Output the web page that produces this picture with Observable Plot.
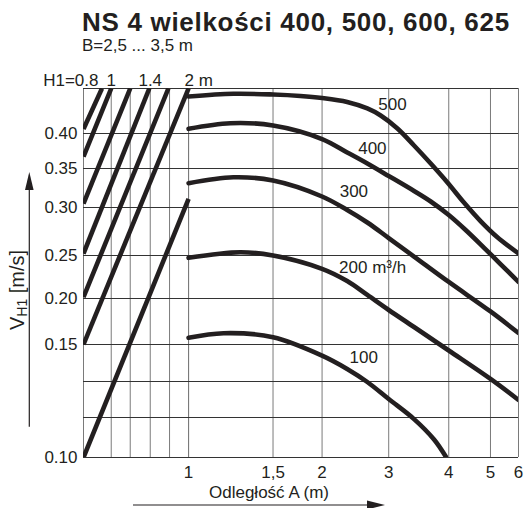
<!DOCTYPE html>
<html><head><meta charset="utf-8">
<script src="https://cdn.jsdelivr.net/npm/d3@7"></script>
<script src="https://cdn.jsdelivr.net/npm/@observablehq/plot@0.6"></script>
<style>
body{margin:0;background:#fff;font-family:"Liberation Sans",Arial,sans-serif;color:#231f20;}
#title{padding:8px 0 0 82px;font-weight:bold;font-size:26px;line-height:28px;letter-spacing:0.7px;white-space:nowrap;}
#subtitle{padding-left:82px;font-size:17px;line-height:20px;}
</style></head><body>
<div id="title">NS 4 wielkości 400, 500, 600, 625</div>
<div id="subtitle">B=2,5 ... 3,5 m</div>
<div id="chart"></div>
<script>
// ---- data: distance A (m) and velocity V_H1 (m/s) per flow rate ----
const curve500 = [[1,0.4411],[1.24,0.4441],[1.5,0.4433],[1.761,0.4417],[2,0.4394],[2.33,0.435],[2.634,0.4278],[2.857,0.420],[3.128,0.4056],[3.387,0.3829],[3.669,0.3571],[3.975,0.3321],[4.338,0.3064],[4.741,0.2859],[5.22,0.2693],[6,0.2521]];
const curve400 = [[1,0.4052],[1.222,0.4114],[1.5,0.4089],[2,0.3921],[2.33,0.3729],[2.634,0.3571],[3,0.3404],[3.387,0.3212],[3.669,0.3077],[4,0.2922],[4.378,0.2766],[4.825,0.2583],[5.336,0.2401],[6,0.2192]];
const curve300 = [[1,0.3312],[1.24,0.3388],[1.5,0.3346],[2,0.3141],[2.33,0.2974],[2.634,0.2844],[3,0.2682],[3.387,0.2488],[4,0.2192],[5,0.1859],[6,0.1625]];
const curve200 = [[1,0.2473],[1.282,0.2534],[1.5,0.2500],[2,0.2345],[2.33,0.2203],[2.634,0.2041],[3,0.1875],[3.387,0.169],[4,0.1473],[5,0.1345],[6,0.1248]];
const curve100 = [[1,0.1573],[1.183,0.1623],[1.5,0.1579],[2,0.145],[2.33,0.139],[2.634,0.1331],[3,0.1252],[3.387,0.116],[3.728,0.1075],[3.943,0.1004]];
const curves = [curve500, curve400, curve300, curve200, curve100];

const flowLabels = ["500", "400", "300", "200 m³/h", "100"];
const labelA = [3.054, 2.716, 2.427, 2.72, 2.578];
const labelV = [0.432, 0.378, 0.320, 0.236, 0.144];

// H1 scaling lines (left panel)
const h1Start = [0.8, 0.8, 0.8, 0.8, 0.8, 0.8, 0.8];
const vStart  = [0.405, 0.367, 0.305, 0.252, 0.2015, 0.15, 0.10];
const h1End   = [0.928, 1.0, 1.2, 1.39, 1.68, 2.0, 2.0];
const vEnd    = [0.45, 0.45, 0.45, 0.45, 0.45, 0.45, 0.311];

// ticks / grid values
const aTicks = [1, 1.5, 2, 3, 4, 5, 6];
const h1Grid = [0.8, 1, 1.2, 1.4, 1.7, 2];
const h1Labels = [0.8, 1, 1.4, 2];
const yTicks = [0.10, 0.15, 0.20, 0.25, 0.30, 0.35, 0.40];
const yGridValues = [0.10, 0.10 + 0.05 / 3, 0.10 + 0.10 / 3, 0.15, 0.20, 0.25, 0.30, 0.35, 0.40, 0.45];

// ---- the nomogram's (irregular) printed grid, in grid units ----
const gridRowUnits = [0, 40, 76, 113, 159, 202, 250, 289, 324, 369];
const aColUnits = [0, 84.4, 133.4, 200, 260, 301.7, 329.7];
const h1ColUnits = [-105, -77.3, -58.3, -38.3, -19, 0];

const yWarp = d3.scaleLinear().domain(yGridValues).range(gridRowUnits);
const xAw = d3.scaleLinear().domain(aTicks.map(Math.log10)).range(aColUnits);
const xHw = d3.scaleLinear().domain(h1Grid.map(Math.log10)).range(h1ColUnits);
const xOfA = a => xAw(Math.log10(a));
const xOfH = h => xHw(Math.log10(h));

const ink = "#231f20";
const lineMarks = curves.map(c => Plot.line(c, {
  x: d => xOfA(d[0]), y: d => yWarp(d[1]), curve: "catmull-rom",
  stroke: ink, strokeWidth: 4.6, clip: true
}));

const topText = {frameAnchor: "top", lineAnchor: "bottom", dy: -3};

const plot = Plot.plot({
  width: 524, height: 452,
  marginLeft: 83, marginRight: 6, marginTop: 32, marginBottom: 51,
  style: {fontFamily: "'Liberation Sans', Arial, sans-serif", fontSize: "17px", color: ink, background: "white", overflow: "visible"},
  x: {type: "linear", domain: [h1ColUnits[0], aColUnits[aColUnits.length - 1]]},
  y: {type: "linear", domain: [0, gridRowUnits[gridRowUnits.length - 1]]},
  marks: [
    Plot.ruleX(h1Grid, {x: xOfH, stroke: "#7a7a7a", strokeWidth: 1}),
    Plot.ruleX(aTicks, {x: xOfA, stroke: "#7a7a7a", strokeWidth: 1}),
    Plot.ruleY(yGridValues, {y: yWarp, stroke: "#333", strokeWidth: 1}),
    Plot.axisY({ticks: yTicks.map(yWarp), tickFormat: u => yWarp.invert(u).toFixed(2), tickSize: 0, tickPadding: 6, label: null}),
    Plot.axisX({ticks: aTicks.map(xOfA), tickFormat: u => String(+Math.pow(10, xAw.invert(u)).toFixed(2)).replace(".", ","), tickSize: 0, tickPadding: 8, label: null}),
    Plot.link(d3.range(h1Start.length), {
      x1: i => xOfH(h1Start[i]), y1: i => yWarp(vStart[i]),
      x2: i => xOfH(h1End[i]), y2: i => yWarp(vEnd[i]),
      stroke: ink, strokeWidth: 4.6, clip: true
    }),
    ...lineMarks,
    Plot.text(flowLabels, {x: (d, i) => xOfA(labelA[i]), y: (d, i) => yWarp(labelV[i]), text: d => d, fill: ink}),
    Plot.text(h1Labels, {filter: (d, i) => i === 0, x: xOfH, text: d => "H1=" + d, textAnchor: "end", dx: 15, ...topText}),
    Plot.text(h1Labels, {filter: (d, i) => i > 0 && i < h1Labels.length - 1, x: xOfH, text: d => String(d), ...topText}),
    Plot.text(h1Labels, {filter: (d, i) => i === h1Labels.length - 1, x: xOfH, text: d => d + " m", textAnchor: "start", dx: -4, ...topText}),
    Plot.text(["Odległość A (m)"], {frameAnchor: "bottom", dx: -32, dy: 40, text: d => d})
  ]
});

// axis title with subscript and the axis arrows
const svg = d3.select(plot);
const t = svg.append("text").attr("transform", "translate(23.5,234) rotate(-90)")
  .attr("text-anchor", "middle").attr("font-size", 20).attr("fill", ink);
t.append("tspan").text("V");
t.append("tspan").attr("font-size", 14).attr("dy", 3).text("H1");
t.append("tspan").attr("dy", -3).text(" [m/s]");

svg.append("line").attr("x1", 29.3).attr("x2", 29.3).attr("y1", 370.7).attr("y2", 132)
  .attr("stroke", ink).attr("stroke-width", 1.2);
svg.append("path").attr("d", "M29.3,116L25,134L33.6,134Z").attr("fill", ink);
svg.append("line").attr("x1", 133).attr("x2", 370).attr("y1", 449).attr("y2", 449)
  .attr("stroke", ink).attr("stroke-width", 1.2);
svg.append("path").attr("d", "M385,449L367,444.5L367,453.5Z").attr("fill", ink);

document.getElementById("chart").appendChild(plot);
</script>
</body></html>
